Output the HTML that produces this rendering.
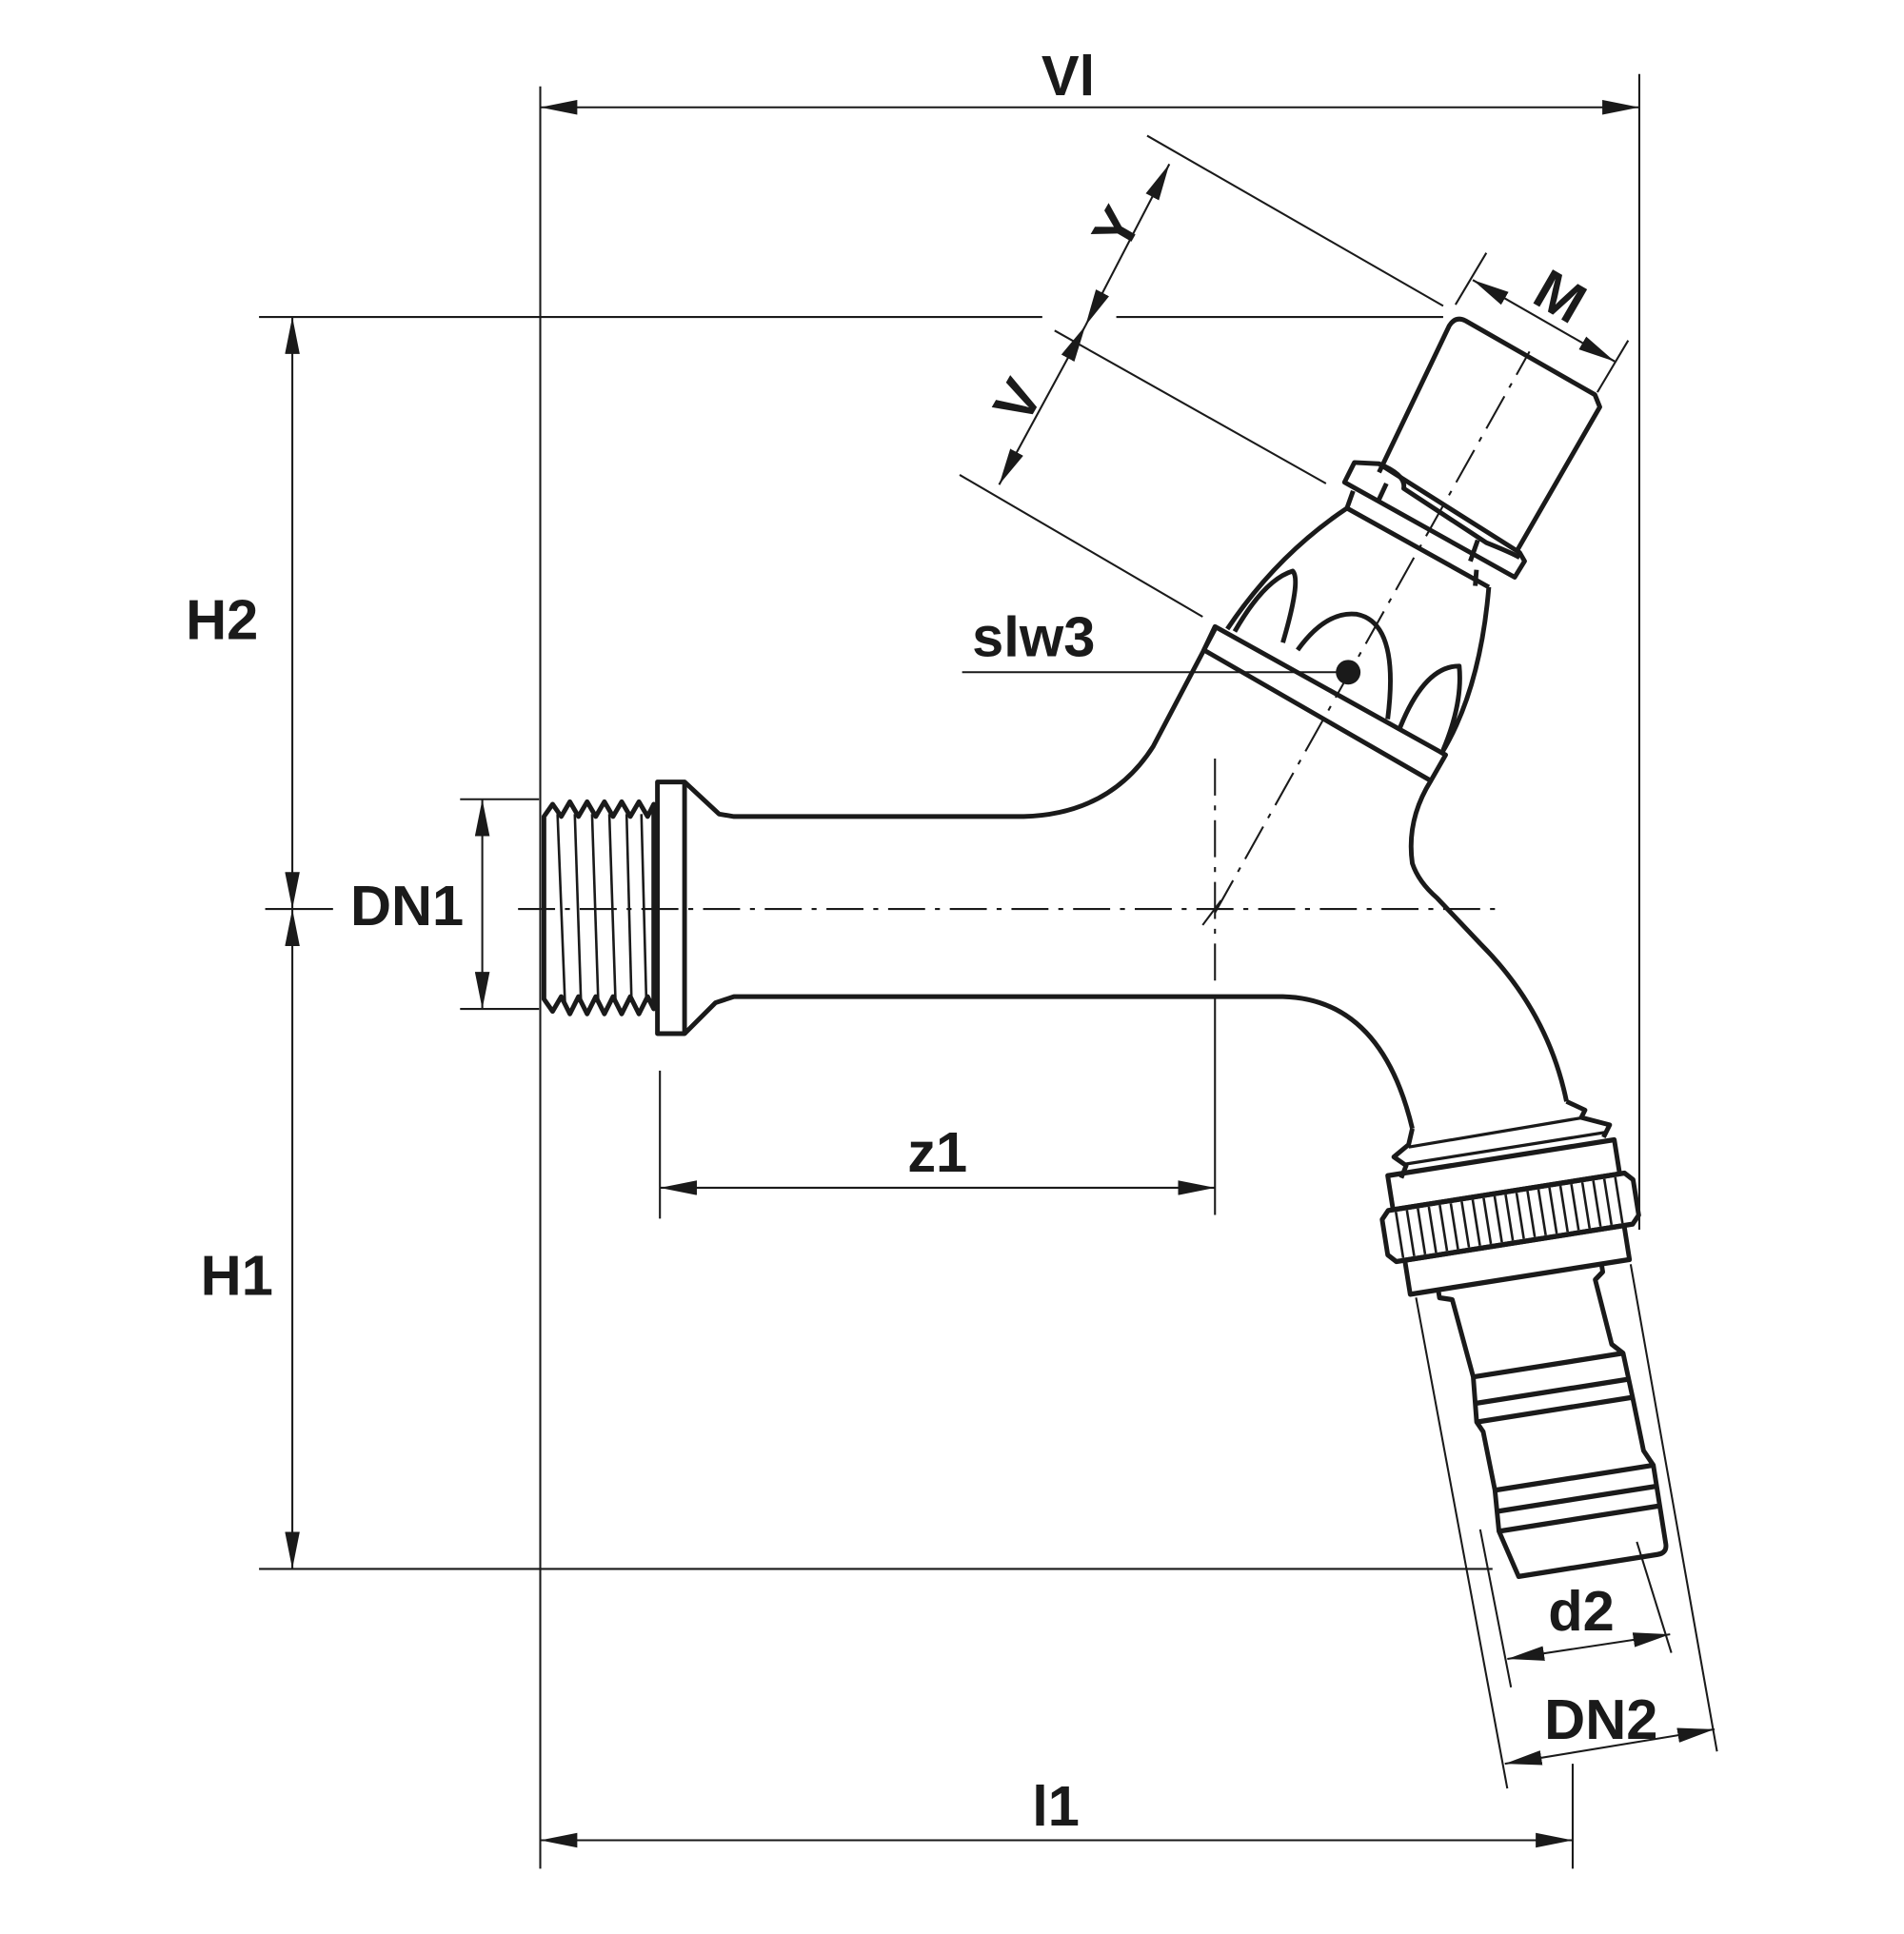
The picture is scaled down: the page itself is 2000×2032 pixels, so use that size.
<!DOCTYPE html>
<html><head><style>html,body{margin:0;padding:0;background:#fff}svg{display:block}</style></head>
<body>
<svg width="2000" height="2032" viewBox="0 0 1543.6 1568" preserveAspectRatio="none" xmlns="http://www.w3.org/2000/svg" font-family="Liberation Sans, sans-serif">
<defs>
<marker id="a" viewBox="0 0 30 12" refX="30" refY="6" markerWidth="30" markerHeight="12" markerUnits="userSpaceOnUse" orient="auto-start-reverse"><path d="M0,0 L30,6 L0,12 Z" fill="#1a1a1a"/></marker>
</defs>
<rect width="1568" height="1593" fill="#fff"/>
<g stroke="#1a1a1a" stroke-width="1.6" fill="none">
<line x1="438" y1="70" x2="438" y2="1515"/>
<line x1="1329" y1="60" x2="1329" y2="997"/>
<line x1="210" y1="257" x2="845" y2="257"/>
<line x1="905" y1="257" x2="1170" y2="257"/>
<line x1="215" y1="737" x2="270" y2="737"/>
<line x1="210" y1="1272" x2="1210" y2="1272"/>
<line x1="373" y1="648" x2="437" y2="648"/>
<line x1="373" y1="818" x2="437" y2="818"/>
<line x1="1275" y1="1430" x2="1275" y2="1515"/>
<line x1="535" y1="868" x2="535" y2="988"/>
<line x1="985" y1="808" x2="985" y2="985"/>
<line x1="985" y1="615" x2="985" y2="800" stroke-dasharray="30,8,4,8"/>
<line x1="420" y1="737" x2="1220" y2="737" stroke-dasharray="30,8,4,8"/>
<line x1="985" y1="740" x2="1240" y2="285" stroke-dasharray="30,8,4,8"/>
<line x1="975" y1="750" x2="990" y2="730"/>
<line x1="930" y1="110" x2="1170" y2="248"/>
<line x1="855" y1="268" x2="1075" y2="392"/>
<line x1="778" y1="385" x2="975" y2="500"/>
<line x1="1180" y1="247" x2="1205" y2="205"/>
<line x1="1295" y1="318" x2="1320" y2="276"/>
<line x1="1148" y1="1052" x2="1222" y2="1450"/>
<line x1="1322" y1="1025" x2="1392" y2="1420"/>
<line x1="1200" y1="1240" x2="1225" y2="1368"/>
<line x1="1327" y1="1250" x2="1355" y2="1340"/>
<line x1="780" y1="545" x2="1093" y2="545"/>
<line x1="438" y1="87" x2="1329" y2="87" marker-start="url(#a)" marker-end="url(#a)"/>
<line x1="237" y1="257" x2="237" y2="737" marker-start="url(#a)" marker-end="url(#a)"/>
<line x1="237" y1="737" x2="237" y2="1272" marker-start="url(#a)" marker-end="url(#a)"/>
<line x1="391" y1="648" x2="391" y2="818" marker-start="url(#a)" marker-end="url(#a)"/>
<line x1="438" y1="1492" x2="1275" y2="1492" marker-start="url(#a)" marker-end="url(#a)"/>
<line x1="535" y1="963" x2="985" y2="963" marker-start="url(#a)" marker-end="url(#a)"/>
<line x1="948" y1="133" x2="880" y2="264" marker-start="url(#a)" marker-end="url(#a)"/>
<line x1="880" y1="264" x2="810" y2="393" marker-start="url(#a)"  marker-end="url(#a)"/>
<line x1="1194" y1="227" x2="1309" y2="293" marker-start="url(#a)" marker-end="url(#a)"/>
<line x1="1222" y1="1345" x2="1354" y2="1325" marker-start="url(#a)" marker-end="url(#a)"/>
<line x1="1220" y1="1430" x2="1390" y2="1402" marker-start="url(#a)" marker-end="url(#a)"/>
</g>
<circle cx="1093" cy="545" r="10" fill="#1a1a1a"/>
<g fill="#1a1a1a" font-size="46" font-weight="bold">
<text x="866" y="77" text-anchor="middle">Vl</text>
<text x="180" y="518" text-anchor="middle">H2</text>
<text x="192" y="1050" text-anchor="middle">H1</text>
<text x="330" y="750" text-anchor="middle">DN1</text>
<text x="856" y="1480" text-anchor="middle">l1</text>
<text x="760" y="950" text-anchor="middle">z1</text>
<text x="838" y="532" text-anchor="middle">slw3</text>
<text x="1282" y="1322" text-anchor="middle">d2</text>
<text x="1298" y="1410" text-anchor="middle">DN2</text>
<text transform="translate(905,185) rotate(-60)" text-anchor="middle" y="16">Y</text>
<text transform="translate(825,325) rotate(-60)" text-anchor="middle" y="16">V</text>
<text transform="translate(1265,240) rotate(30)" text-anchor="middle" y="16">M</text>
</g>
<g stroke="#1a1a1a" stroke-width="3.8" fill="none" stroke-linejoin="round">
<path d="M441,662 L448,652 L455,662 L462,650 L469,662 L476,650 L483,662 L490,650 L497,662 L504,650 L511,662 L518,650 L525,662 L530,652 L530,818 L525,808 L518,822 L511,808 L504,822 L497,808 L490,822 L483,808 L476,822 L469,808 L462,822 L455,808 L448,820 L441,810 Z"/>
<g stroke-width="2"><line x1="452" y1="660" x2="458" y2="812"/><line x1="466" y1="660" x2="471" y2="812"/><line x1="480" y1="660" x2="485" y2="812"/><line x1="494" y1="660" x2="499" y2="812"/><line x1="508" y1="660" x2="512" y2="812"/><line x1="520" y1="660" x2="524" y2="812"/></g>
<rect x="533" y="634" width="22" height="204"/>
<path d="M555,634 L583,660 L595,662 L830,662 Q900,660 935,605 L985,510"/>
<path d="M555,838 L580,813 L595,808 L1040,808 Q1120,810 1145,915"/>
<path d="M985,508 L1172,612 L1160,633 L976,527 Z"/>
<path d="M1160,633 Q1140,665 1145,700 Q1150,715 1165,728 L1200,765 Q1255,820 1270,893"/>
<path d="M995,510 Q1035,450 1092,412"/>
<path d="M1207,476 Q1200,560 1168,612"/>
<path d="M1092,412 L1207,476"/>
<path d="M1092,412 L1097,398 M1197,462 L1196,475"/>
<path d="M1001,512 Q1025,470 1048,463 Q1055,470 1040,521"/>
<path d="M1052,527 Q1075,495 1100,498 Q1135,505 1125,583"/>
<path d="M1135,590 Q1155,540 1183,540 Q1186,570 1170,608"/>
<path d="M1098,375 L1118,376 L1232,448 L1236,455 L1228,468 L1090,391 Z"/>
<path d="M1118,376 Q1140,385 1138,396 L1205,440 Q1225,448 1232,452"/>
<line x1="1124" y1="392" x2="1117" y2="407"/>
<line x1="1198" y1="438" x2="1192" y2="455"/>
<path d="M1118,383 L1175,264 Q1180,256 1188,260 L1293,320 L1297,330 L1229,448"/>
<path d="M1145,915 L1142,928 L1130,938 L1140,945 L1136,955"/>
<path d="M1270,893 L1285,900 L1282,906 L1305,912 L1300,922"/>
<line x1="1142" y1="930" x2="1284" y2="906" stroke-width="2.5"/>
<line x1="1138" y1="944" x2="1302" y2="918" stroke-width="2.5"/>
</g>
<g transform="rotate(-9,1225,990) translate(0,938) scale(1,1.075) translate(0,-933)" stroke="#1a1a1a" stroke-width="3.8" fill="none" stroke-linejoin="round">
<rect x="1132" y="933" width="186" height="26"/>
<path d="M1122,965 L1128,959 L1322,959 L1328,965 L1328,992 L1322,998 L1128,998 L1122,992 Z"/>
<g stroke-width="2">
<path d="M1134,961 V996 M1143,961 V996 M1152,961 V996 M1161,961 V996 M1170,961 V996 M1179,961 V996 M1188,961 V996 M1197,961 V996 M1206,961 V996 M1215,961 V996 M1224,961 V996 M1233,961 V996 M1242,961 V996 M1251,961 V996 M1260,961 V996 M1269,961 V996 M1278,961 V996 M1287,961 V996 M1296,961 V996 M1305,961 V996 M1314,961 V996"/>
</g>
<rect x="1135" y="998" width="180" height="26"/>
<path d="M1158,1024 L1158,1030 L1168,1033 L1175,1093 L1172,1127 L1176,1135 L1178,1180 L1176,1211 L1186,1247 L1300,1247 Q1308,1247 1308,1240 L1308,1180 L1302,1168 L1300,1127 L1298,1093 L1290,1085 L1285,1035 L1292,1030 L1292,1024"/>
<line x1="1175" y1="1093" x2="1298" y2="1093"/>
<line x1="1174" y1="1113" x2="1300" y2="1113"/>
<line x1="1172" y1="1127" x2="1300" y2="1127"/>
<line x1="1178" y1="1180" x2="1308" y2="1180"/>
<line x1="1177" y1="1196" x2="1308" y2="1196"/>
<line x1="1176" y1="1211" x2="1308" y2="1211"/>
</g>
</svg>
</body></html>
